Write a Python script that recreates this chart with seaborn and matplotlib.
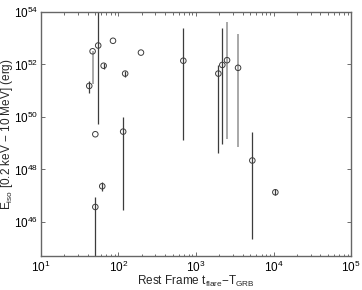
import matplotlib
matplotlib.use("Agg")
import matplotlib.pyplot as plt
import seaborn as sns
import numpy as np
import pandas as pd
from matplotlib.ticker import LogLocator, NullFormatter

# Rest-frame flare time (s)
t_rest = [42, 46.4, 54.8, 64.4, 85, 122, 195, 50.3, 115, 50.3, 61.8,
          686, 1940, 2183, 2512, 3483, 5320, 10540]
# log10 of E_iso (erg)
logE = [51.18, 52.50, 52.72, 51.95, 52.90, 51.65, 52.45, 49.34, 49.44, 46.57, 47.36,
        52.14, 51.65, 51.98, 52.16, 51.87, 48.34, 47.13]
# log10 lower / upper ends of error bars
logE_lo = [50.90, 51.26, 49.72, 51.83, 52.90, 51.51, 52.45, 49.34, 46.46, 43.0, 47.19,
           49.12, 48.64, 48.97, 49.16, 48.87, 45.34, 47.02]
logE_hi = [51.37, 52.50, 55.0, 52.07, 52.90, 51.76, 52.45, 49.34, 50.01, 46.96, 47.52,
           53.38, 51.98, 53.40, 53.62, 53.15, 49.44, 47.24]
# error-bar shade group
bar_group = ["dark", "light", "dark", "dark", "dark", "dark", "dark", "dark", "dark", "dark", "dark",
             "dark", "dark", "dark", "light", "light", "dark", "dark"]

df = pd.DataFrame({
    "t": t_rest,
    "E": 10.0 ** np.array(logE),
    "lo": 10.0 ** np.array(logE_lo),
    "hi": 10.0 ** np.array(logE_hi),
    "grp": bar_group,
})

sns.set_style("ticks")
plt.rcParams["font.family"] = ["Liberation Sans", "DejaVu Sans"]
plt.rcParams["mathtext.fontset"] = "custom"
plt.rcParams["mathtext.rm"] = "Liberation Sans"
plt.rcParams["mathtext.it"] = "Liberation Sans"

fig = plt.figure(figsize=(3.62, 2.90), dpi=100)
ax = fig.add_axes([0.113, 0.117, 0.857, 0.842])

colors = {"dark": "#3c3c3c", "light": "#a8a8a8"}
widths = {"dark": 0.9, "light": 1.4}
for g in ["light", "dark"]:
    sub = df[df.grp == g]
    ax.vlines(sub.t, sub.lo, sub.hi, color=colors[g], lw=widths[g], zorder=2)

sns.scatterplot(data=df, x="t", y="E", ax=ax, marker="o", s=16,
                facecolor="none", edgecolor="#3c3c3c", linewidth=0.7, zorder=3,
                legend=False)

ax.set_xscale("log")
ax.set_yscale("log")
ax.set_xlim(10, 1e5)
ax.set_ylim(10 ** 44.7, 1e54)

ax.xaxis.set_major_locator(LogLocator(base=10, numticks=10))
ax.xaxis.set_minor_locator(LogLocator(base=10, subs=np.arange(2, 10), numticks=20))
ax.xaxis.set_minor_formatter(NullFormatter())
ax.set_yticks([1e46, 1e48, 1e50, 1e52, 1e54])
ax.yaxis.set_minor_locator(plt.NullLocator())

ax.tick_params(which="both", direction="in", top=True, right=True,
               colors="#555555", labelcolor="black", labelsize=8.5, width=0.6)
ax.tick_params(which="major", length=3, pad=3)
ax.tick_params(axis="y", which="major", pad=2)
ax.tick_params(which="minor", length=1.8)
for sp in ax.spines.values():
    sp.set_color("#666666")
    sp.set_linewidth(1.0)

ax.set_xlabel(r"Rest Frame t$_{\rm flare}$$-$T$_{\rm GRB}$", fontsize=8.5)
ax.set_ylabel(r"E$_{\rm iso}$ [0.2 keV $-$ 10 MeV] (erg)", fontsize=8.5)
ax.xaxis.set_label_coords(0.5, -0.075)
ax.yaxis.set_label_coords(-0.082, 0.5)

fig.savefig("out.png", dpi=100)
